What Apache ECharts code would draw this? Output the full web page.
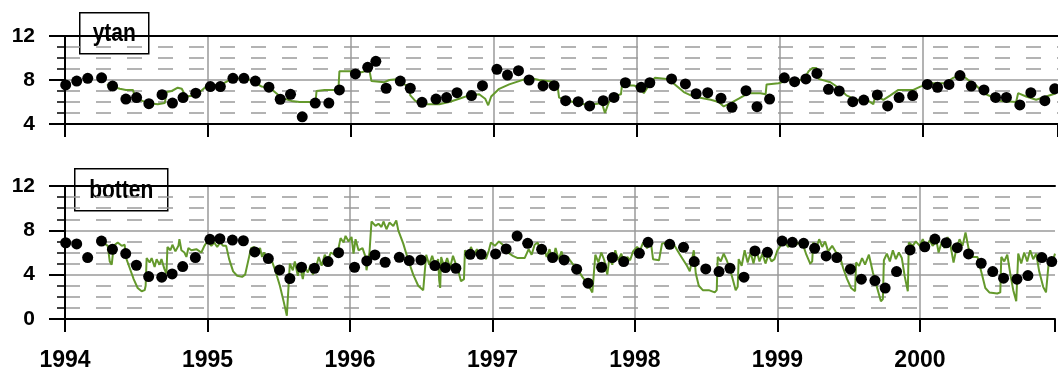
<!DOCTYPE html>
<html>
<head>
<meta charset="utf-8">
<script src="https://cdn.jsdelivr.net/npm/echarts@6/dist/echarts.min.js"></script>
<style>
  html, body { margin: 0; padding: 0; background: #fff; }
  #chart { width: 1058px; height: 373px; }
</style>
</head>
<body>
<div id="chart"></div>
<script>
// Sampling dates (decimal years) shared by surface and bottom samples
const sampleYears = [
  1994.005, 1994.082, 1994.159, 1994.256, 1994.333, 1994.426, 1994.501, 1994.587, 1994.679, 1994.752,
  1994.826, 1994.915, 1995.017, 1995.087, 1995.175, 1995.252, 1995.332, 1995.427, 1995.506, 1995.578,
  1995.660, 1995.751, 1995.846, 1995.920, 1996.032, 1996.118, 1996.175, 1996.247, 1996.346, 1996.416,
  1996.498, 1996.596, 1996.670, 1996.743, 1996.844, 1996.921, 1997.022, 1997.096, 1997.173, 1997.247,
  1997.345, 1997.422, 1997.503, 1997.591, 1997.671, 1997.766, 1997.841, 1997.921, 1998.031, 1998.092,
  1998.244, 1998.341, 1998.416, 1998.497, 1998.590, 1998.667, 1998.765, 1998.842, 1998.930, 1999.033,
  1999.105, 1999.184, 1999.261, 1999.342, 1999.417, 1999.512, 1999.589, 1999.684, 1999.756, 1999.836,
  1999.931, 2000.034, 2000.105, 2000.185, 2000.262, 2000.341, 2000.430, 2000.511, 2000.587, 2000.681,
  2000.758, 2000.856, 2000.925
];

// Sampled values, surface layer ("ytan")
const surfaceSamples = [
  7.55, 7.9, 8.15, 8.2, 7.45, 6.27, 6.4, 5.85, 6.67, 5.9,
  6.4, 6.8, 7.4, 7.4, 8.15, 8.15, 7.9, 7.35, 6.25, 6.7,
  4.65, 5.9, 5.9, 7.1, 8.55, 9.15, 9.7, 7.25, 7.9, 7.25,
  5.97, 6.27, 6.4, 6.85, 6.58, 7.48, 8.97, 8.45, 8.85, 8.0,
  7.48, 7.48, 6.12, 6.03, 5.64, 6.12, 6.42, 7.75, 7.33, 7.75,
  8.1, 7.64, 6.75, 6.85, 6.34, 5.52, 7.03, 5.57, 6.27, 8.2,
  7.85, 8.1, 8.6, 7.15, 7.0, 6.03, 6.18, 6.64, 5.64, 6.4,
  6.58, 7.6, 7.33, 7.6, 8.4, 7.45, 7.1, 6.42, 6.42, 5.73,
  6.85, 6.12, 7.2
];

// Sampled values, bottom layer ("botten")
const bottomSamples = [
  6.88, 6.77, 5.54, 7.03, 6.29, 5.9, 4.85, 3.83, 3.77, 4.07,
  4.73, 5.54, 7.19, 7.24, 7.12, 7.06, 6.05, 5.45, 4.43, 3.65,
  4.67, 4.58, 5.18, 5.98, 4.67, 5.24, 5.78, 5.12, 5.57, 5.27,
  5.33, 4.82, 4.64, 4.58, 5.84, 5.84, 5.87, 6.32, 7.48, 6.83,
  6.29, 5.54, 5.33, 4.49, 3.23, 4.67, 5.54, 5.18, 5.93, 6.92,
  6.74, 6.47, 5.18, 4.52, 4.28, 4.58, 3.77, 6.14, 6.02, 7.03,
  6.92, 6.83, 6.38, 5.69, 5.54, 4.49, 3.59, 3.47, 2.79, 4.28,
  6.23, 6.52, 7.21, 6.88, 6.43, 5.87, 5.03, 4.28, 3.68, 3.59,
  3.92, 5.54, 5.18
];

// Continuous logger record, surface: [decimal year, value]
const surfaceLogger = [
  [1994.293, 7.6], [1994.328, 7.4], [1994.384, 7.2], [1994.426, 7.1], [1994.475, 7.1],
  [1994.489, 6.5], [1994.524, 6.2], [1994.580, 5.9], [1994.649, 5.8], [1994.698, 5.9],
  [1994.712, 6.9], [1994.747, 7.0], [1994.789, 7.3], [1994.817, 7.2], [1994.845, 6.5],
  [1994.908, 6.6], [1994.943, 6.9], [1994.978, 7.3], [1995.013, 7.5], [1995.096, 7.6],
  [1995.166, 8.1], [1995.257, 8.2], [1995.327, 7.8], [1995.376, 7.4], [1995.432, 7.3],
  [1995.487, 6.7], [1995.536, 6.3], [1995.585, 6.1], [1995.641, 6.0], [1995.711, 6.0],
  [1995.753, 6.0], [1995.760, 7.0], [1995.816, 7.1], [1995.885, 7.1], [1995.913, 7.1],
  [1995.920, 8.8], [1996.004, 8.8], [1996.074, 8.7], [1996.130, 8.9], [1996.144, 7.9],
  [1996.235, 7.8], [1996.270, 8.0], [1996.339, 8.1], [1996.374, 7.6], [1996.409, 7.4],
  [1996.416, 6.6], [1996.451, 6.1], [1996.514, 5.8], [1996.619, 5.8], [1996.688, 6.0],
  [1996.758, 6.3], [1996.828, 6.6], [1996.898, 6.7], [1996.940, 6.3], [1996.961, 5.7],
  [1996.982, 6.5], [1997.038, 7.2], [1997.108, 7.6], [1997.177, 7.9], [1997.247, 8.2],
  [1997.317, 8.0], [1997.443, 7.8], [1997.457, 6.4], [1997.527, 6.1], [1997.631, 5.8],
  [1997.701, 5.8], [1997.757, 5.9], [1997.778, 5.0], [1997.806, 6.0], [1997.862, 6.6],
  [1997.890, 6.7], [1997.897, 7.5], [1997.980, 7.5], [1998.029, 7.3], [1998.050, 6.8],
  [1998.085, 7.5], [1998.127, 8.2], [1998.211, 8.1], [1998.267, 7.6], [1998.330, 6.9],
  [1998.379, 6.6], [1998.434, 6.4], [1998.518, 6.2], [1998.574, 6.0], [1998.609, 5.6],
  [1998.658, 5.9], [1998.714, 6.3], [1998.783, 6.8], [1998.867, 6.8], [1998.902, 6.7],
  [1998.909, 7.6], [1998.993, 7.7], [1999.063, 8.0], [1999.168, 8.0], [1999.203, 8.8],
  [1999.230, 9.1], [1999.258, 9.1], [1999.272, 8.1], [1999.356, 7.8], [1999.412, 7.3],
  [1999.468, 6.6], [1999.538, 6.2], [1999.621, 6.1], [1999.656, 5.8], [1999.670, 6.6],
  [1999.726, 6.2], [1999.775, 6.6], [1999.831, 7.1], [1999.936, 7.1], [1999.985, 7.4],
  [2000.055, 7.7], [2000.159, 7.7], [2000.215, 8.2], [2000.271, 8.5], [2000.320, 8.0],
  [2000.376, 7.5], [2000.425, 6.8], [2000.480, 6.5], [2000.550, 6.1], [2000.655, 6.0],
  [2000.669, 6.8], [2000.725, 6.5], [2000.795, 6.2], [2000.865, 6.5], [2000.934, 6.8]
];

// Continuous logger record, bottom: [decimal year, value]
const bottomLogger = [
  [1994.279, 6.8], [1994.300, 6.6], [1994.314, 5.2], [1994.328, 4.9], [1994.342, 6.6],
  [1994.370, 6.9], [1994.398, 6.6], [1994.419, 6.7], [1994.426, 5.6], [1994.454, 4.6],
  [1994.482, 3.6], [1994.510, 2.8], [1994.538, 2.5], [1994.559, 2.6], [1994.566, 3.0],
  [1994.573, 5.5], [1994.594, 5.1], [1994.608, 5.5], [1994.629, 4.7], [1994.643, 5.4],
  [1994.663, 4.9], [1994.677, 5.4], [1994.698, 4.5], [1994.712, 4.1], [1994.719, 6.5],
  [1994.740, 6.2], [1994.754, 6.7], [1994.775, 6.1], [1994.796, 6.6], [1994.803, 7.2],
  [1994.817, 6.2], [1994.838, 6.0], [1994.852, 5.6], [1994.866, 6.4], [1994.887, 6.2],
  [1994.922, 6.3], [1994.957, 6.0], [1994.978, 6.6], [1994.999, 7.0], [1995.027, 6.6],
  [1995.047, 6.9], [1995.068, 6.5], [1995.089, 6.9], [1995.110, 6.6], [1995.131, 6.6],
  [1995.152, 5.4], [1995.180, 4.3], [1995.208, 3.9], [1995.243, 3.8], [1995.264, 4.0],
  [1995.285, 5.2], [1995.306, 6.4], [1995.327, 6.5], [1995.348, 6.1], [1995.369, 6.4],
  [1995.383, 5.6], [1995.397, 6.0], [1995.411, 5.6], [1995.432, 5.5], [1995.453, 5.2],
  [1995.480, 4.2], [1995.508, 3.0], [1995.536, 1.5], [1995.557, 0.3], [1995.571, 0.3],
  [1995.578, 5.0], [1995.599, 4.4], [1995.613, 5.2], [1995.634, 3.9], [1995.648, 4.9],
  [1995.669, 3.6], [1995.683, 4.7], [1995.704, 4.2], [1995.725, 4.9], [1995.739, 4.0],
  [1995.760, 4.6], [1995.781, 5.6], [1995.801, 4.8], [1995.823, 5.8], [1995.844, 5.2],
  [1995.865, 6.0], [1995.892, 5.8], [1995.920, 6.4], [1995.934, 7.3], [1995.955, 6.9],
  [1995.969, 7.5], [1995.990, 7.0], [1996.011, 7.4], [1996.025, 5.9], [1996.039, 7.2],
  [1996.060, 6.2], [1996.088, 6.4], [1996.109, 5.6], [1996.116, 4.4], [1996.137, 6.0],
  [1996.151, 8.8], [1996.179, 8.4], [1996.200, 8.6], [1996.221, 8.3], [1996.235, 8.8],
  [1996.256, 8.1], [1996.277, 8.7], [1996.304, 8.4], [1996.325, 8.9], [1996.339, 8.0],
  [1996.374, 6.8], [1996.409, 5.3], [1996.444, 4.0], [1996.479, 3.0], [1996.514, 2.6],
  [1996.528, 2.7], [1996.535, 5.8], [1996.556, 4.9], [1996.577, 5.7], [1996.598, 4.8],
  [1996.619, 5.4], [1996.626, 3.5], [1996.633, 2.8], [1996.640, 5.6], [1996.661, 4.7],
  [1996.682, 5.5], [1996.702, 4.6], [1996.723, 5.7], [1996.744, 4.9], [1996.765, 4.1],
  [1996.779, 3.4], [1996.800, 3.6], [1996.807, 6.2], [1996.828, 5.6], [1996.849, 6.5],
  [1996.870, 5.8], [1996.891, 6.3], [1996.912, 5.5], [1996.933, 6.0], [1996.954, 5.4],
  [1996.975, 6.2], [1996.989, 6.9], [1997.017, 6.6], [1997.045, 7.0], [1997.073, 6.7],
  [1997.108, 6.0], [1997.143, 5.7], [1997.177, 5.5], [1997.226, 5.5], [1997.254, 6.3],
  [1997.275, 5.8], [1997.296, 6.7], [1997.317, 6.9], [1997.338, 6.1], [1997.359, 6.6],
  [1997.380, 5.6], [1997.401, 6.3], [1997.422, 5.2], [1997.443, 6.4], [1997.464, 5.4],
  [1997.485, 6.1], [1997.506, 5.1], [1997.527, 5.6], [1997.561, 5.0], [1997.596, 4.5],
  [1997.631, 3.8], [1997.666, 3.2], [1997.701, 2.4], [1997.715, 2.5], [1997.722, 5.8],
  [1997.743, 5.1], [1997.764, 6.0], [1997.785, 5.3], [1997.806, 4.0], [1997.820, 5.5],
  [1997.841, 4.9], [1997.862, 6.2], [1997.883, 5.3], [1997.904, 5.9], [1997.925, 5.0],
  [1997.946, 5.6], [1997.966, 5.3], [1997.987, 6.1], [1998.015, 6.5], [1998.036, 6.2],
  [1998.057, 6.9], [1998.085, 6.4], [1998.113, 6.8], [1998.127, 5.4], [1998.169, 5.3],
  [1998.190, 6.8], [1998.225, 6.9], [1998.274, 6.7], [1998.316, 5.8], [1998.365, 4.8],
  [1998.385, 4.3], [1998.413, 6.2], [1998.427, 4.1], [1998.448, 3.0], [1998.476, 2.6],
  [1998.518, 2.6], [1998.560, 2.4], [1998.574, 2.6], [1998.581, 5.6], [1998.602, 5.2],
  [1998.623, 5.9], [1998.644, 5.3], [1998.665, 4.6], [1998.686, 3.6], [1998.707, 2.6],
  [1998.721, 2.9], [1998.728, 5.4], [1998.749, 4.8], [1998.770, 6.2], [1998.791, 5.1],
  [1998.812, 6.0], [1998.832, 5.0], [1998.853, 6.2], [1998.874, 5.2], [1998.895, 5.9],
  [1998.916, 5.0], [1998.937, 5.8], [1998.958, 5.2], [1998.979, 5.4], [1999.000, 6.2],
  [1999.021, 6.6], [1999.049, 6.9], [1999.077, 6.5], [1999.105, 7.1], [1999.133, 6.7],
  [1999.161, 7.0], [1999.182, 6.6], [1999.203, 5.8], [1999.230, 5.0], [1999.244, 5.2],
  [1999.251, 6.9], [1999.272, 6.4], [1999.293, 7.2], [1999.314, 6.5], [1999.335, 7.0],
  [1999.356, 6.1], [1999.384, 6.6], [1999.412, 6.0], [1999.433, 5.9], [1999.461, 4.6],
  [1999.489, 3.6], [1999.517, 2.8], [1999.545, 2.5], [1999.552, 5.1], [1999.573, 4.8],
  [1999.594, 5.5], [1999.615, 4.9], [1999.642, 5.8], [1999.670, 4.2], [1999.698, 2.9],
  [1999.726, 1.6], [1999.740, 1.8], [1999.747, 5.3], [1999.768, 5.9], [1999.789, 5.2],
  [1999.810, 6.2], [1999.831, 5.4], [1999.852, 6.0], [1999.873, 5.5], [1999.894, 3.8],
  [1999.915, 2.5], [1999.922, 6.9], [1999.950, 6.6], [1999.971, 7.0], [1999.999, 6.6],
  [2000.020, 7.2], [2000.041, 6.5], [2000.069, 7.1], [2000.089, 6.6], [2000.117, 7.0],
  [2000.131, 6.0], [2000.152, 6.9], [2000.173, 6.4], [2000.194, 7.4], [2000.215, 6.6],
  [2000.236, 5.1], [2000.257, 6.4], [2000.278, 7.2], [2000.299, 6.6], [2000.320, 7.8],
  [2000.341, 6.4], [2000.369, 5.6], [2000.404, 5.6], [2000.432, 4.2], [2000.459, 2.8],
  [2000.487, 2.4], [2000.543, 2.3], [2000.564, 2.4], [2000.571, 5.6], [2000.592, 5.2],
  [2000.613, 5.8], [2000.634, 4.1], [2000.655, 2.6], [2000.676, 1.6], [2000.683, 1.7],
  [2000.690, 5.9], [2000.711, 5.0], [2000.732, 6.0], [2000.753, 5.2], [2000.774, 6.2],
  [2000.795, 5.4], [2000.816, 5.9], [2000.837, 4.3], [2000.865, 2.9], [2000.885, 2.4],
  [2000.899, 2.5], [2000.906, 5.4], [2000.927, 5.0], [2000.948, 5.9]
];

// Panel captions
const panelTitles = ['ytan', 'botten'];

const X_MIN = 1994;
const X_MAX = 2000.948;
const FONT = '"Liberation Sans", Arial, sans-serif';
const GREEN = '#64992c';
const GRID_GREY = '#9a9a9a';

const chart = echarts.init(document.getElementById('chart'), null, { renderer: 'canvas' });

function zip(xs, ys) {
  return xs.map((x, i) => [x, ys[i]]);
}

function timeAxes(gridIndex, showLabels) {
  return [
    {
      type: 'value', gridIndex, position: 'bottom',
      min: X_MIN, max: X_MAX, interval: 1,
      axisLine: { show: true, onZero: false, lineStyle: { color: '#000', width: 2 } },
      axisTick: { show: true, length: 13, lineStyle: { color: '#000', width: 2 } },
      axisLabel: {
        show: showLabels, margin: 30, color: '#000',
        fontFamily: FONT, fontWeight: 'bold', fontSize: 23,
        formatter: v => (Number.isInteger(v) ? String(v) : '')
      },
      splitLine: {
        show: true, showMinLine: false, showMaxLine: false,
        lineStyle: { color: GRID_GREY, width: 1.5 }
      }
    },
    {
      // top frame line of the panel
      type: 'value', gridIndex, position: 'top',
      min: X_MIN, max: X_MAX, interval: 1,
      axisLine: { show: true, onZero: false, lineStyle: { color: '#000', width: 2 } },
      axisTick: { show: false }, axisLabel: { show: false }, splitLine: { show: false }
    }
  ];
}

function valueAxis(gridIndex, min) {
  return {
    type: 'value', gridIndex, min, max: 12, interval: 4,
    axisLine: { show: true, onZero: false, lineStyle: { color: '#000', width: 2 } },
    axisTick: { show: true, length: 16, lineStyle: { color: '#000', width: 2 } },
    minorTick: { show: true, splitNumber: 4, length: 8, lineStyle: { color: '#000', width: 1.5 } },
    axisLabel: {
      margin: 30, color: '#000', fontFamily: FONT, fontWeight: 'bold', fontSize: 21
    },
    splitLine: {
      show: true, showMinLine: false, showMaxLine: false,
      lineStyle: { color: GRID_GREY, width: 1.5 }
    },
    minorSplitLine: {
      show: true,
      lineStyle: { color: GRID_GREY, width: 1.5, type: [15, 16] }
    }
  };
}

function captionBox(text, left, top, width, height) {
  return {
    type: 'group', left, top, z: 100,
    children: [
      {
        type: 'rect', shape: { x: 0, y: 0, width, height },
        style: { fill: '#fff', stroke: '#000', lineWidth: 1.5 }
      },
      {
        type: 'text', x: width / 2, y: height / 2 + 1, scaleY: 1.2,
        style: {
          text, x: 0, y: 0, align: 'center', verticalAlign: 'middle',
          fontFamily: FONT, fontWeight: 'bold', fontSize: 21, fill: '#000'
        }
      }
    ]
  };
}

const option = {
  animation: false,
  backgroundColor: '#fff',
  grid: [
    { left: 65, right: -2, top: 36, height: 88 },
    { left: 65, right: -2, top: 186, height: 133 }
  ],
  xAxis: [...timeAxes(0, false), ...timeAxes(1, true)],
  yAxis: [valueAxis(0, 4), valueAxis(1, 0)],
  graphic: [
    captionBox(panelTitles[0], 79, 12, 69, 41),
    captionBox(panelTitles[1], 74, 168, 93, 42)
  ],
  series: [
    {
      type: 'line', xAxisIndex: 0, yAxisIndex: 0, data: surfaceLogger,
      showSymbol: false, lineStyle: { color: GREEN, width: 2 }, z: 2
    },
    {
      type: 'scatter', xAxisIndex: 0, yAxisIndex: 0, data: zip(sampleYears, surfaceSamples),
      symbol: 'circle', symbolSize: 11, itemStyle: { color: '#000', opacity: 1 }, z: 3
    },
    {
      type: 'line', xAxisIndex: 2, yAxisIndex: 1, data: bottomLogger,
      showSymbol: false, lineStyle: { color: GREEN, width: 2 }, z: 2
    },
    {
      type: 'scatter', xAxisIndex: 2, yAxisIndex: 1, data: zip(sampleYears, bottomSamples),
      symbol: 'circle', symbolSize: 11, itemStyle: { color: '#000', opacity: 1 }, z: 3
    }
  ]
};

chart.setOption(option);
</script>
</body>
</html>
